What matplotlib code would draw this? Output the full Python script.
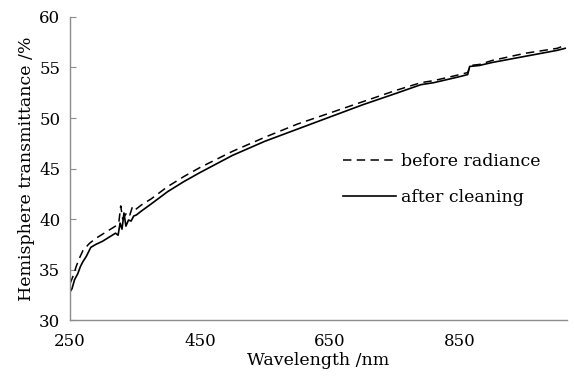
import matplotlib
matplotlib.use('Agg')
import matplotlib.pyplot as plt

plt.rcParams['font.family'] = ['DejaVu Serif']
plt.rcParams['font.size'] = 12

# wavelength (nm) and transmittance (%)
wl_before = [250, 255, 260, 265, 270, 280, 290, 300, 310, 320, 325, 328, 331, 334, 338,
             342, 346, 350, 360, 375, 400, 425, 450, 500, 550, 600, 650, 700, 750,
             790, 810, 830, 850, 862, 866, 880, 900, 950, 1000, 1012]
t_before = [33.6, 34.4, 35.4, 36.2, 36.9, 37.6, 38.1, 38.5, 38.9, 39.3, 39.6, 41.3, 40.0,
            40.3, 40.7, 40.4, 41.2, 40.9, 41.4, 42.0, 43.2, 44.2, 45.1, 46.7, 48.1, 49.4,
            50.5, 51.6, 52.7, 53.5, 53.7, 54.0, 54.3, 54.5, 55.2, 55.3, 55.7, 56.4, 56.9, 57.2]

wl_after = [250, 253, 257, 262, 266, 270, 275, 282, 290, 300, 310, 320, 324, 327, 330,
            333, 336, 340, 344, 348, 352, 360, 375, 400, 425, 450, 500, 550, 600, 650,
            700, 750, 790, 810, 830, 850, 862, 865, 880, 900, 950, 1000, 1012]
t_after = [32.8, 33.1, 34.0, 34.6, 35.3, 35.8, 36.3, 37.2, 37.5, 37.8, 38.2, 38.6, 38.4,
           39.6, 39.0, 40.6, 39.3, 39.9, 39.8, 40.3, 40.4, 40.8, 41.5, 42.7, 43.7, 44.6,
           46.3, 47.7, 48.9, 50.1, 51.3, 52.4, 53.3, 53.5, 53.8, 54.1, 54.3, 55.1, 55.2,
           55.5, 56.1, 56.7, 56.9]

xticks = [250, 450, 650, 850]
yticks = [30, 35, 40, 45, 50, 55, 60]

fig = plt.figure(figsize=(5.74, 3.77), dpi=100)
ax = fig.add_axes([0.122, 0.151, 0.866, 0.804])

ax.plot(wl_before, t_before, color='black', lw=1.1, linestyle=(0, (5.5, 3.5)),
        label='before radiance')
ax.plot(wl_after, t_after, color='black', lw=1.2, label='after cleaning')

ax.set_xlim(250, 1015)
ax.set_ylim(30, 60)
ax.set_xticks(xticks)
ax.set_yticks(yticks)

for s in ['top', 'right']:
    ax.spines[s].set_visible(False)
for s in ['left', 'bottom']:
    ax.spines[s].set_color('#8c8c8c')
    ax.spines[s].set_linewidth(1.0)

ax.tick_params(axis='y', direction='in', length=4, color='#8c8c8c', pad=7, labelsize=12)
ax.tick_params(axis='x', length=0, pad=9, labelsize=12)

ax.set_xlabel('Wavelength /nm', fontsize=12.5, labelpad=2)
ax.set_ylabel('Hemisphere transmittance /%', fontsize=12.5, labelpad=3)

ax.legend(loc='upper left', bbox_to_anchor=(0.55, 0.55), frameon=False,
          handlelength=3.0, handletextpad=0.3, labelspacing=1.05, fontsize=12.5,
          borderaxespad=0, borderpad=0)

fig.savefig('out.png', dpi=100)
